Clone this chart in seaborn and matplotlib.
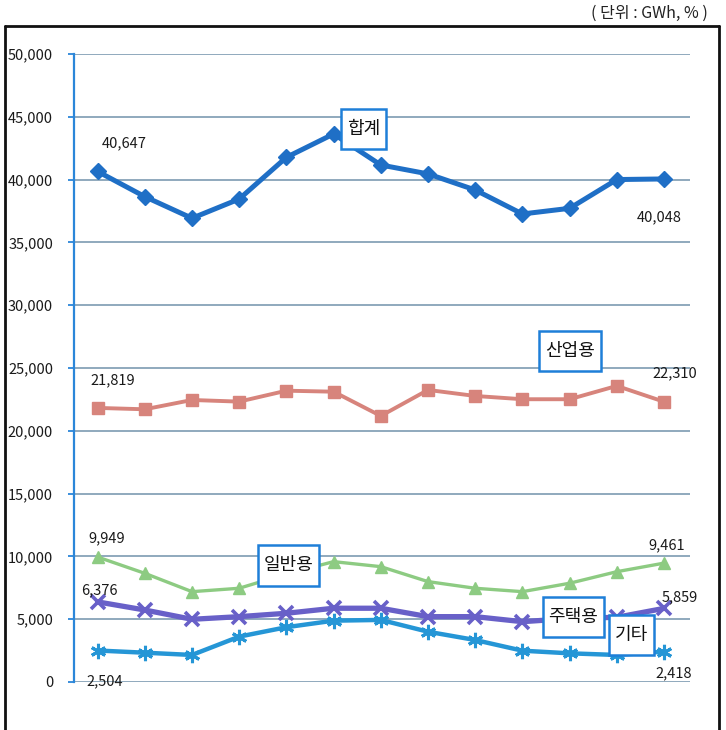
import numpy as np
import pandas as pd
import matplotlib
matplotlib.use("Agg")
import matplotlib.pyplot as plt
import seaborn as sns
from matplotlib.lines import Line2D
from matplotlib.path import Path
from matplotlib.ticker import FuncFormatter

# --------------------------------------------------------------------------
# data (GWh), 13 periods, no x labels shown in the source
PERIODS = list(range(13))
TOTAL = [40647, 38640, 36920, 38450, 41770, 43630, 41160, 40450, 39170, 37260, 37710, 40000, 40048]
INDUSTRY = [21819, 21710, 22450, 22320, 23190, 23110, 21180, 23250, 22770, 22510, 22510, 23570, 22310]
GENERAL = [9949, 8650, 7190, 7460, 8600, 9580, 9180, 7990, 7460, 7190, 7860, 8780, 9461]
HOUSING = [6376, 5730, 4990, 5200, 5470, 5870, 5870, 5200, 5200, 4800, 5050, 5150, 5859]
OTHER = [2504, 2330, 2150, 3610, 4360, 4880, 4940, 4000, 3340, 2490, 2280, 2150, 2418]
SERIES_NAMES = ["합계", "산업용", "일반용", "주택용", "기타"]
Y_TICKS = [0, 5000, 10000, 15000, 20000, 25000, 30000, 35000, 40000, 45000, 50000]
UNIT_NOTE = "( 단위 : GWh, % )"
# --------------------------------------------------------------------------

sns.set_style("white")
plt.rcParams["font.family"] = ["Noto Sans CJK KR", "DejaVu Sans"]

styles = {
    "합계": dict(color="#1F6FC6", marker="D", ms=8, lw=3.6, mew=1),
    "산업용": dict(color="#D7847C", marker="s", ms=9, lw=2.8, mew=1),
    "일반용": dict(color="#8DCB82", marker="^", ms=8, lw=2.4, mew=1),
    "주택용": dict(color="#6860C8", marker="x", ms=10, lw=3.8, mew=2.6),
    "기타": dict(color="#2596D6", marker=(6, 2, 0), ms=11, lw=3.2, mew=2.2),
}


def tall_box(x0, y0, width, height, mutation_size):
    """square box with more room above/below than on the sides (Excel callout look)"""
    px, py = 0.32 * mutation_size, 0.62 * mutation_size
    return Path([(x0 - px, y0 - py), (x0 + width + px, y0 - py),
                 (x0 + width + px, y0 + height + py), (x0 - px, y0 + height + py),
                 (x0 - px, y0 - py)], closed=True)


df = pd.DataFrame({"period": PERIODS, "합계": TOTAL, "산업용": INDUSTRY,
                   "일반용": GENERAL, "주택용": HOUSING, "기타": OTHER})
long = df.melt(id_vars="period", var_name="series", value_name="gwh")

fig = plt.figure(figsize=(7.26, 7.30), dpi=100)
ax = fig.add_axes([0.1019, 0.0658, 0.8485, 0.8603])

for name in SERIES_NAMES:
    st = styles[name]
    sub = long[long.series == name]
    sns.lineplot(data=sub, x="period", y="gwh", ax=ax, color=st["color"], lw=st["lw"],
                 marker=st["marker"], markersize=st["ms"], markeredgewidth=st["mew"],
                 markeredgecolor=st["color"], markerfacecolor=st["color"], legend=False, zorder=3)

ax.set_xlim(-0.5, 12.55)
ax.set_ylim(0, 50000)
ax.set_yticks(Y_TICKS)
ax.yaxis.set_major_formatter(FuncFormatter(lambda v, p: f"{int(v):,}"))
ax.set_xticks([])
ax.set_xlabel("")
ax.set_ylabel("")
ax.grid(axis="y", color="#8FA9BD", lw=1.4)
ax.set_axisbelow(True)
for s in ["top", "right", "bottom"]:
    ax.spines[s].set_visible(False)
ax.spines["left"].set_color("#2B86D9")
ax.spines["left"].set_linewidth(1.6)
ax.tick_params(axis="y", left=True, length=4, width=1.3, color="#2B86D9",
               pad=11, labelsize=10.5, labelcolor="#1a1a1a")

# data labels at first / last points
lab_kw = dict(fontsize=10.5, color="#1a1a1a", ha="center", va="center", zorder=5)
ax.text(0.57, 42900, f"{TOTAL[0]:,}", **lab_kw)
ax.text(11.9, 37000, f"{TOTAL[-1]:,}", **lab_kw)
ax.text(0.32, 24050, f"{INDUSTRY[0]:,}", **lab_kw)
ax.text(12.23, 24600, f"{INDUSTRY[-1]:,}", **lab_kw)
ax.text(0.19, 11450, f"{GENERAL[0]:,}", **lab_kw)
ax.text(12.06, 10900, f"{GENERAL[-1]:,}", **lab_kw)
ax.text(0.04, 7320, f"{HOUSING[0]:,}", **lab_kw)
ax.text(12.34, 6770, f"{HOUSING[-1]:,}", **lab_kw)
ax.text(0.15, 60, f"{OTHER[0]:,}", clip_on=False, **lab_kw)
ax.text(12.21, 720, f"{OTHER[-1]:,}", **lab_kw)

# boxed series names
box_kw = dict(fontsize=13, color="#111111", ha="center", va="center", zorder=6,
              bbox=dict(boxstyle=tall_box, fc="white", ec="#1E7FD8", lw=1.8))
ax.text(5.64, 44030, "합계", **box_kw)
ax.text(10.01, 26350, "산업용", **box_kw)
ax.text(4.04, 9280, "일반용", **box_kw)
ax.text(10.08, 5170, "주택용", **box_kw)
ax.text(11.31, 3740, "기타", **box_kw)

# outer frame (open at the bottom) and unit note
W, H = 726, 730
fx = lambda px: px / W
fy = lambda py: 1 - py / H
frame = dict(color="#111111", lw=2.0, transform=fig.transFigure)
fig.add_artist(Line2D([fx(5), fx(5)], [fy(730), fy(26)], **frame))
fig.add_artist(Line2D([fx(5), fx(719)], [fy(26), fy(26)], **frame))
fig.add_artist(Line2D([fx(719), fx(719)], [fy(26), fy(730)], **frame))
fig.text(fx(708), fy(13), UNIT_NOTE, ha="right", va="center", fontsize=11.5, color="#222222")

fig.savefig("out.png", dpi=100)
plt.close(fig)
